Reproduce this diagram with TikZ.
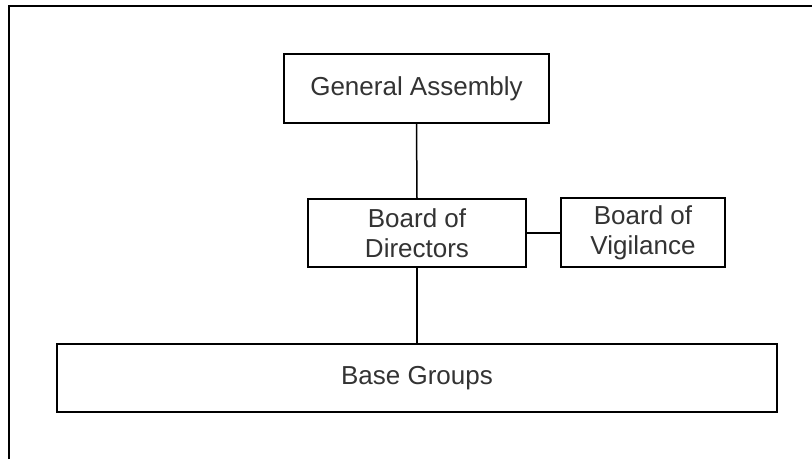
\documentclass[tikz,border=0pt]{standalone}
\usepackage{fontspec}
\setmainfont{Liberation Sans}
\definecolor{txt}{HTML}{333333}
\begin{document}
\begin{tikzpicture}[x=1pt,y=1pt,
  orgbox/.style={draw=black,line width=1.5pt,fill=white,inner sep=0pt,
    font=\fontsize{26}{30}\selectfont,text=txt,align=center},
  link/.style={draw=black,line width=1.5pt}]
\useasboundingbox (0,0) rectangle (812,-459);
\draw[line width=2pt] (8.5,-459) -- (8.5,-5.5) -- (812,-5.5);
\node[orgbox,minimum width=265pt,minimum height=69pt] (ga) at (416.5,-88.5) {General Assembly};
\node[orgbox,minimum width=218pt,minimum height=68pt] (bod) at (417,-233) {Board of\\Directors};
\node[orgbox,minimum width=164pt,minimum height=69pt] (bov) at (643,-232.5) {Board of\\Vigilance};
\node[orgbox,minimum width=720pt,minimum height=68pt] (bg) at (417,-378) {Base Groups};
\draw[link] (ga.south) -- (bod.north);
\draw[link] (bod.south) -- (bg.north);
\draw[link] (bod.east) -- (bod.east -| bov.west);
\end{tikzpicture}
\end{document}
